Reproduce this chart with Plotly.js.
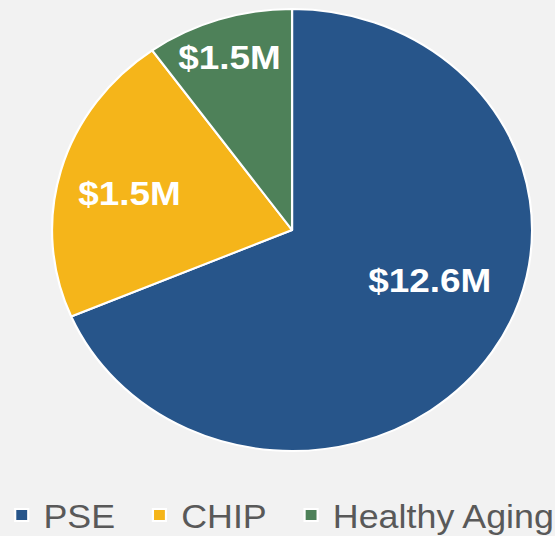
<!DOCTYPE html>
<html>
<head>
<meta charset="utf-8">
<script src="https://cdn.plot.ly/plotly-3.0.1.min.js"></script>
<style>
  html, body { margin: 0; padding: 0; background: #F2F2F2; overflow: hidden; }
  #wrap { width: 555px; height: 536px; overflow: hidden; }
  #chart { width: 530px; height: 543px; transform: scaleX(1.0861); transform-origin: 0 0; }
</style>
</head>
<body>
<div id="wrap"><div id="chart"></div></div>
<script>
// Data (slice shares; labels as printed on the chart)
const categories = ["PSE", "CHIP", "Healthy Aging"];
const shares = [68.6, 21.5, 9.9];
const sliceLabels = ["$12.6M", "$1.5M", "$1.5M"];
const colors = ["#27558A", "#F5B51A", "#4E8159"];

// label placement (paper coords) - style only
const labelPos = [[0.7470, 0.4843], [0.2258, 0.6446], [0.3996, 0.895]];
// spacing after legend entries (non-breaking + thin space), style only
const legendPad = ["\u00a0\u2009", "\u00a0\u2009", ""];

const trace = {
  type: "pie",
  labels: categories.map((c, i) => c + legendPad[i]),
  values: shares,
  textinfo: "none",
  sort: false,
  direction: "clockwise",
  rotation: 0,
  marker: { colors: colors, line: { color: "#FFFFFF", width: 2 } },
  domain: { x: [0.0904, 0.9243], y: [0.1694, 0.9834] },
  hoverinfo: "none"
};

const annotations = sliceLabels.map((t, i) => ({
  xref: "paper", yref: "paper",
  x: labelPos[i][0], y: labelPos[i][1],
  xanchor: "center", yanchor: "middle",
  text: "<b>" + t + "</b>",
  showarrow: false,
  font: { family: "Liberation Sans, Arial, sans-serif", size: 34, color: "#FFFFFF" }
}));

const layout = {
  width: 530,
  height: 543,
  margin: { l: 0, r: 0, t: 0, b: 0 },
  paper_bgcolor: "#F2F2F2",
  plot_bgcolor: "#F2F2F2",
  showlegend: true,
  annotations: annotations,
  legend: {
    orientation: "h",
    x: 0, xanchor: "left",
    y: 0, yanchor: "bottom",
    font: { family: "Liberation Sans, Arial, sans-serif", size: 33, color: "#595959" },
    bgcolor: "rgba(0,0,0,0)",
    traceorder: "normal",
    itemwidth: 30
  }
};

Plotly.newPlot("chart", [trace], layout, { displayModeBar: false, staticPlot: true });
</script>
</body>
</html>
